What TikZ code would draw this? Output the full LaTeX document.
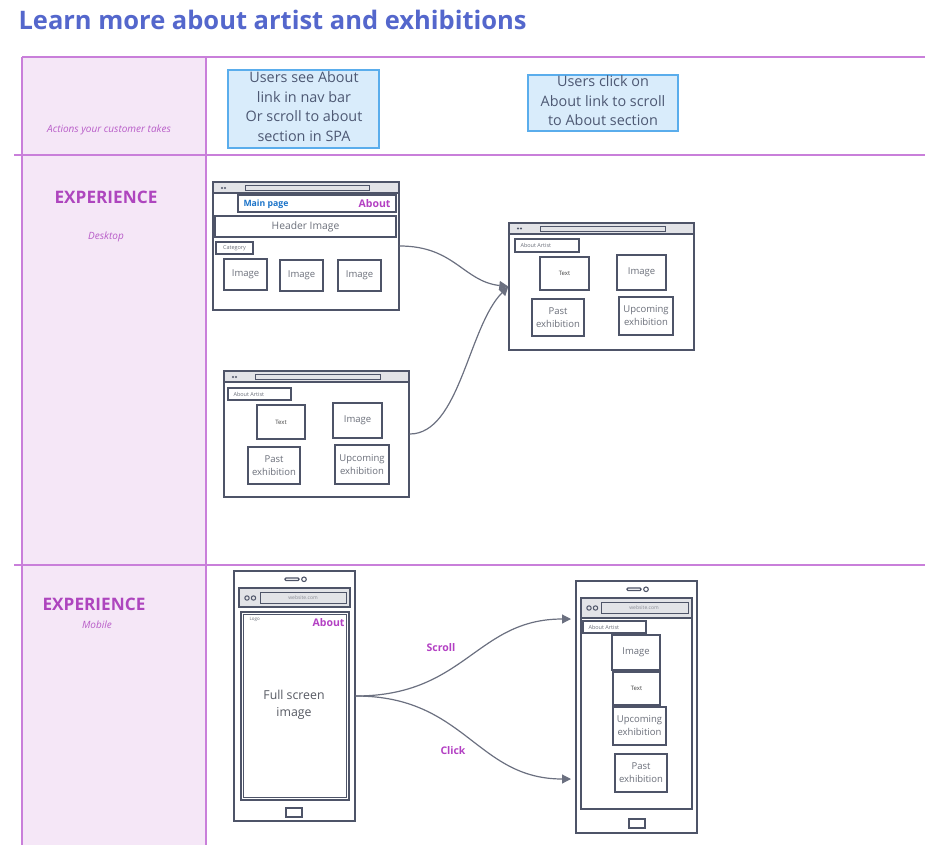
\documentclass[tikz,border=0pt]{standalone}
\usepackage{fontspec}
\setmainfont{Open Sans}
\usetikzlibrary{arrows.meta,calc}
\definecolor{lanestroke}{HTML}{C97FDA}
\definecolor{lanefill}{HTML}{F5E7F7}
\definecolor{titleblue}{HTML}{5467CC}
\definecolor{exppurple}{HTML}{AE45BE}
\definecolor{smallpurple}{HTML}{B85CC8}
\definecolor{stickyfill}{HTML}{D9ECFB}
\definecolor{stickyline}{HTML}{5AADEC}
\definecolor{stickytext}{HTML}{4D5873}
\definecolor{wfstroke}{HTML}{4E5468}
\definecolor{barfill}{HTML}{E2E3E7}
\definecolor{wtext}{HTML}{6B6F7A}
\definecolor{mainblue}{HTML}{1C74C9}
\definecolor{aboutpurple}{HTML}{B340C3}
\definecolor{arrowgray}{HTML}{6B7080}
\tikzset{
  laneline/.style={draw=lanestroke, line width=2pt},
  sticky/.style={draw=stickyline, fill=stickyfill, line width=1.3pt, inner sep=0pt},
  stickytxt/.style={text=stickytext, align=center, inner sep=0pt, font=\fontsize{14.4}{19.5}\selectfont},
  winframe/.style={draw=wfstroke, fill=white, line width=1.4pt, inner sep=0pt},
  wbox/.style={draw=wfstroke, line width=2.8pt, inner sep=0pt, align=center, text=wtext, font=\fontsize{9.5}{13}\selectfont},
  tinybox/.style={draw=wfstroke, line width=2.6pt, inner sep=0pt, text=wtext, font=\fontsize{5.5}{7}\selectfont},
  thinline/.style={draw=wfstroke, line width=1.2pt},
  flow/.style={draw=arrowgray, line width=1.2pt, -{Triangle[length=9pt,width=9pt]}},
  flowlabel/.style={text=aboutpurple, font=\bfseries\fontsize{10.5}{12}\selectfont},
  exphead/.style={text=exppurple, font=\bfseries\fontsize{17.2}{20}\selectfont},
  expsub/.style={text=smallpurple, font=\itshape\fontsize{10}{12}\selectfont},
}
\begin{document}
\begin{tikzpicture}[x=1pt,y=-1pt]
\useasboundingbox (0,0) rectangle (925,845);
% title
\node[anchor=west, text=titleblue, font=\bfseries\fontsize{25.5}{28}\selectfont] (title) at (15,20) {Learn more about artist and exhibitions};
% swimlane
\fill[lanefill] (22,57) rectangle (206,845);
\draw[laneline] (22,57) -- (925,57);
\draw[laneline] (14,155) -- (925,155);
\draw[laneline] (14,565) -- (925,565);
\draw[laneline] (22,57) -- (22,845);
\draw[laneline] (206,57) -- (206,845);
\node[expsub] (actions) at (109,130) {Actions your customer takes};
\node[exphead] (exp1) at (106,197) {EXPERIENCE};
\node[expsub] (desk) at (106,237) {Desktop};
\node[exphead] (exp2) at (94,604) {EXPERIENCE};
\node[expsub] (mob) at (97,625) {Mobile};
% sticky notes
\node[sticky, minimum width=151pt, minimum height=78pt] (s1) at (303.5,109) {};
\node[stickytxt] (s1t) at (304,106.5) {Users see About\\link in nav bar\\Or scroll to about\\section in SPA};
\node[sticky, minimum width=150pt, minimum height=56pt] (s2) at (603,103) {};
\node[stickytxt] (s2t) at (603,101) {Users click on\\About link to scroll\\to About section};

% ---------- desktop window 1
\node[winframe, minimum width=186pt, minimum height=128pt] (w1) at (306,246) {};
\draw[thinline, fill=barfill] (213,182) rectangle (399,193);
\draw[wfstroke, line width=0.9pt, fill=barfill] (245,185) rectangle (369,190);
\fill[wfstroke] (222,188) circle (1.1) (225,188) circle (1.1);
\node[wbox, minimum width=158pt, minimum height=17pt] (w1nav) at (317,203.5) {};
\node[anchor=west, text=mainblue, font=\bfseries\fontsize{8.7}{11}\selectfont] (w1main) at (240,204) {Main page};
\node[anchor=east, text=aboutpurple, font=\bfseries\fontsize{10.5}{13}\selectfont] (w1about) at (394,203.5) {About};
\node[wbox, minimum width=181pt, minimum height=21pt, font=\fontsize{10.3}{13}\selectfont] (w1head) at (305.5,226.5) {Header Image};
\node[tinybox, minimum width=37pt, minimum height=12pt] (w1cat) at (234.5,248) {Category};
\node[wbox, minimum width=43pt, minimum height=31pt] (w1i1) at (245.5,274.5) {Image};
\node[wbox, minimum width=43pt, minimum height=31pt] (w1i2) at (301.5,275.5) {Image};
\node[wbox, minimum width=43pt, minimum height=31pt] (w1i3) at (359.5,275.5) {Image};

% ---------- desktop window 2
\node[winframe, minimum width=185pt, minimum height=126pt] (w2) at (316.5,434) {};
\draw[thinline, fill=barfill] (224,371) rectangle (409,382);
\draw[wfstroke, line width=0.9pt, fill=barfill] (255,374) rectangle (380,379);
\fill[wfstroke] (233,377) circle (1.1) (236,377) circle (1.1);
\node[tinybox, minimum width=63pt, minimum height=12pt] (w2aa) at (259.5,394) {};
\node[anchor=west, text=wtext, font=\fontsize{5.5}{7}\selectfont] (w2aat) at (230,394) {About Artist};
\node[wbox, minimum width=48pt, minimum height=34pt, font=\fontsize{6}{8}\selectfont, text=black!75] (w2t) at (281,422) {Text};
\node[wbox, minimum width=49pt, minimum height=35pt] (w2i) at (357.5,420.5) {Image};
\node[wbox, minimum width=52pt, minimum height=37pt] (w2p) at (274,465.5) {Past\\exhibition};
\node[wbox, minimum width=54pt, minimum height=39pt] (w2u) at (362,464.5) {Upcoming\\exhibition};

% ---------- desktop window 3
\node[winframe, minimum width=185pt, minimum height=127pt] (w3) at (601.5,286.5) {};
\draw[thinline, fill=barfill] (509,223) rectangle (694,234);
\draw[wfstroke, line width=0.9pt, fill=barfill] (540,226) rectangle (665,231);
\fill[wfstroke] (518,228.5) circle (1.1) (521,228.5) circle (1.1);
\node[tinybox, minimum width=64pt, minimum height=13pt] (w3aa) at (547,245.5) {};
\node[anchor=west, text=wtext, font=\fontsize{5.5}{7}\selectfont] (w3aat) at (517,245.5) {About Artist};
\node[wbox, minimum width=49pt, minimum height=33pt, font=\fontsize{6}{8}\selectfont, text=black!75] (w3t) at (564.5,273.5) {Text};
\node[wbox, minimum width=49pt, minimum height=35pt] (w3i) at (641.5,272.5) {Image};
\node[wbox, minimum width=52pt, minimum height=37pt] (w3p) at (558,317.5) {Past\\exhibition};
\node[wbox, minimum width=54pt, minimum height=38pt] (w3u) at (646,316) {Upcoming\\exhibition};

% desktop arrows
\draw[flow] (w1.east) .. controls +(55,0) and +(-45,-5) .. (w3.west);
\draw[flow] (w2.east) .. controls +(50,0) and +(-40,40) .. (w3.west);

% ---------- phone 1
\node[winframe, minimum width=121pt, minimum height=250pt] (p1) at (294.5,696) {};
\draw[wfstroke, line width=1.2pt, rounded corners=1pt] (285,578) rectangle (299,580.5);
\draw[wfstroke, line width=1.1pt] (304,579.3) circle (2.3);
\draw[thinline, fill=barfill] (239,588) rectangle (350,607);
\draw[wfstroke, line width=1pt] (247,598) circle (2.2) (253.5,598) circle (2.2);
\draw[wfstroke, line width=1pt, fill=barfill] (260,592) rectangle (346,603);
\node[text=wtext!80, font=\fontsize{5}{6}\selectfont] (p1url) at (303,597.5) {website.com};
\draw[thinline] (241,612) rectangle (349,800);
\draw[wfstroke, line width=1pt] (243.5,614.5) rectangle (346.5,797.5);
\node[anchor=west, text=wtext, font=\fontsize{4.5}{5}\selectfont] (p1logo) at (246,619) {Logo};
\node[anchor=east, text=aboutpurple, font=\bfseries\fontsize{10.5}{13}\selectfont] (p1about) at (348,622.5) {About};
\node[align=center, text=wtext!80!black, font=\fontsize{12.3}{17}\selectfont] (p1img) at (294,705) {Full screen\\image};
\draw[wfstroke, line width=1.2pt] (286,808) rectangle (302,817);

% ---------- phone 2
\node[winframe, minimum width=121pt, minimum height=252pt] (p2) at (636.5,707) {};
\draw[wfstroke, line width=1.2pt, rounded corners=1pt] (627,588) rectangle (641,590.5);
\draw[wfstroke, line width=1.1pt] (646,589.3) circle (2.3);
\draw[thinline, fill=barfill] (581,598) rectangle (692,618);
\draw[wfstroke, line width=1pt] (589,608) circle (2.2) (595.5,608) circle (2.2);
\draw[wfstroke, line width=1pt, fill=barfill] (601,602) rectangle (688,613);
\node[text=wtext!80, font=\fontsize{5}{6}\selectfont] (p2url) at (644,607.5) {website.com};
\draw[thinline] (581,618) rectangle (692,809);
\node[tinybox, minimum width=63pt, minimum height=12pt] (p2aa) at (614.5,627) {};
\node[anchor=west, text=wtext, font=\fontsize{5.5}{7}\selectfont] (p2aat) at (585,627) {About Artist};
\node[wbox, minimum width=48pt, minimum height=35pt] (p2i) at (636,652.5) {Image};
\node[wbox, minimum width=47pt, minimum height=33pt, font=\fontsize{6}{8}\selectfont, text=black!75] (p2t) at (636.5,688.5) {Text};
\node[wbox, minimum width=53pt, minimum height=38pt] (p2u) at (639.5,726) {Upcoming\\exhibition};
\node[wbox, minimum width=52pt, minimum height=38pt] (p2p) at (641,773) {Past\\exhibition};
\draw[wfstroke, line width=1.2pt] (629,819) rectangle (645,828);

% mobile arrows
\coordinate (p2in1) at (571,619);
\coordinate (p2in2) at (571,779);
\draw[flow] (p1.east) .. controls +(110,0) and +(-95,0) .. (p2in1);
\draw[flow] (p1.east) .. controls +(110,0) and +(-95,0) .. (p2in2);
\node[flowlabel] (lscroll) at (441,648) {Scroll};
\node[flowlabel] (lclick) at (453,751) {Click};
\end{tikzpicture}
\end{document}
